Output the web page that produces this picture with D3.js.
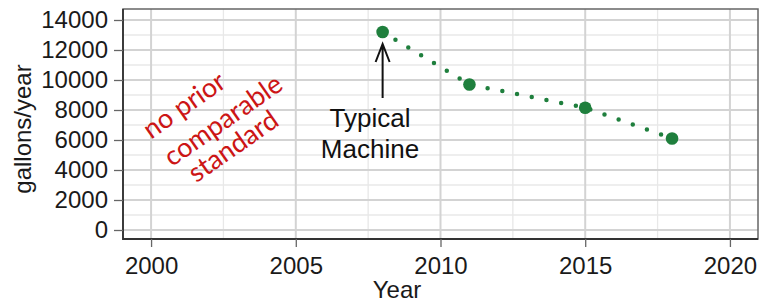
<!DOCTYPE html>
<html>
<head>
<meta charset="utf-8">
<script src="https://cdn.jsdelivr.net/npm/d3@7"></script>
<style>
  body { margin: 0; background: #fff; }
  svg { display: block; font-family: "Liberation Sans", Arial, sans-serif; }
  .grid-major { stroke: #d3d3d3; stroke-width: 2; }
  .grid-minor { stroke: #e8e8e8; stroke-width: 1.3; }
  .axis path { display: none; }
  .axis line { stroke: #666; stroke-width: 1.3; }
  .axis text { font-size: 24px; fill: #1a1a1a; font-family: "Liberation Sans", Arial, sans-serif; }
</style>
</head>
<body>
<script>
const width = 759;
const height = 302;

// data
const years = [2008, 2011, 2015, 2018];
const gallons = [13200, 9700, 8150, 6100];
const xTicks = [2000, 2005, 2010, 2015, 2020];
const xMinor = [2002.5, 2007.5, 2012.5, 2017.5];
const yTicks = [0, 2000, 4000, 6000, 8000, 10000, 12000, 14000];
const yMinor = [1000, 3000, 5000, 7000, 9000, 11000, 13000];
const noteLines = ["no prior", "comparable", "standard"];
const markerLines = ["Typical", "Machine"];

const panel = { left: 123, right: 758, top: 9, bottom: 239 };

const x = d3.scaleLinear()
    .domain([1999.03, 2020.97])
    .range([panel.left, panel.right]);

const y = d3.scaleLinear()
    .domain([-600, 14733])
    .range([panel.bottom, panel.top]);

const svg = d3.select("body")
    .append("svg")
    .attr("width", width)
    .attr("height", height);

// grid
svg.selectAll(".gx-minor")
    .data(xMinor)
    .enter().append("line")
    .attr("class", "grid-minor")
    .attr("x1", (d) => x(d)).attr("x2", (d) => x(d))
    .attr("y1", panel.top).attr("y2", panel.bottom);

svg.selectAll(".gy-minor")
    .data(yMinor)
    .enter().append("line")
    .attr("class", "grid-minor")
    .attr("y1", (d) => y(d)).attr("y2", (d) => y(d))
    .attr("x1", panel.left).attr("x2", panel.right);

svg.selectAll(".gx-major")
    .data(xTicks)
    .enter().append("line")
    .attr("class", "grid-major")
    .attr("x1", (d) => x(d)).attr("x2", (d) => x(d))
    .attr("y1", panel.top).attr("y2", panel.bottom);

svg.selectAll(".gy-major")
    .data(yTicks)
    .enter().append("line")
    .attr("class", "grid-major")
    .attr("y1", (d) => y(d)).attr("y2", (d) => y(d))
    .attr("x1", panel.left).attr("x2", panel.right);

// panel border
svg.append("rect")
    .attr("x", panel.left).attr("y", panel.top)
    .attr("width", panel.right - panel.left)
    .attr("height", panel.bottom - panel.top)
    .attr("fill", "none")
    .attr("stroke", "#666")
    .attr("stroke-width", 1.5);

svg.append("path")
    .attr("d", `M${panel.left},${panel.top}V${panel.bottom}H${panel.right}`)
    .attr("fill", "none")
    .attr("stroke", "#333")
    .attr("stroke-width", 1.8);

// axes
svg.append("g")
    .attr("class", "axis")
    .attr("transform", `translate(${panel.left},0)`)
    .call(d3.axisLeft(y).tickValues(yTicks).tickSize(9).tickPadding(6).tickFormat(d3.format("d")));

svg.append("g")
    .attr("class", "axis")
    .attr("transform", `translate(0,${panel.bottom})`)
    .call(d3.axisBottom(x).tickValues(xTicks).tickSize(8).tickPadding(10).tickFormat(d3.format("d")));

svg.append("text")
    .attr("x", 397)
    .attr("y", 298)
    .attr("text-anchor", "middle")
    .style("font-size", "24px")
    .style("fill", "#1a1a1a")
    .text("Year");

svg.append("text")
    .attr("transform", "translate(31,129) rotate(-90)")
    .attr("text-anchor", "middle")
    .style("font-size", "24px")
    .style("fill", "#1a1a1a")
    .text("gallons/year");

// series
const green = "#1f7f3d";
const pts = years.map((d, i) => ({ year: d, value: gallons[i] }));

svg.append("path")
    .datum(pts)
    .attr("fill", "none")
    .attr("stroke", green)
    .attr("stroke-width", 4.5)
    .attr("stroke-linecap", "round")
    .attr("stroke-dasharray", "0 15")
    .attr("d", d3.line().x((d) => x(d.year)).y((d) => y(d.value)));

svg.selectAll(".pt")
    .data(pts)
    .enter().append("circle")
    .attr("cx", (d) => x(d.year))
    .attr("cy", (d) => y(d.value))
    .attr("r", 6.3)
    .attr("fill", green);

// red note
const notePos = [[184, 105], [223, 120], [233, 146]];
svg.selectAll(".note")
    .data(noteLines)
    .enter().append("text")
    .attr("transform", (d, i) => `translate(${notePos[i][0]},${notePos[i][1]}) rotate(-35)`)
    .attr("text-anchor", "middle")
    .attr("dy", "0.35em")
    .style("font-family", "Lato, sans-serif")
    .style("font-size", "27px")
    .style("fill", "#cc1515")
    .text((d) => d);

// arrow + label for the first point
const ax = x(years[0]);
svg.append("path")
    .attr("d", `M${ax},98V44M${ax - 7},62L${ax},44L${ax + 7},62`)
    .attr("fill", "none")
    .attr("stroke", "#111")
    .attr("stroke-width", 2);

svg.selectAll(".marker-label")
    .data(markerLines)
    .enter().append("text")
    .attr("x", 370)
    .attr("y", (d, i) => 127 + i * 31)
    .attr("text-anchor", "middle")
    .style("font-size", "26px")
    .style("fill", "#111")
    .text((d) => d);
</script>
</body>
</html>
